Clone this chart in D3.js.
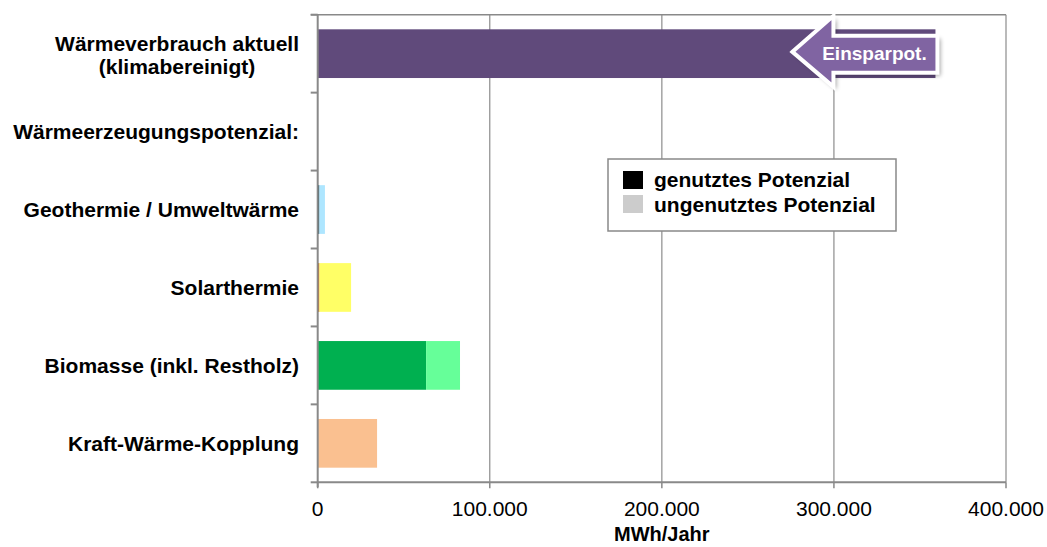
<!DOCTYPE html>
<html>
<head>
<meta charset="utf-8">
<script src="https://cdn.jsdelivr.net/npm/d3@7"></script>
<style>
  html, body { margin: 0; padding: 0; background: #fff; }
  svg { display: block; font-family: "Liberation Sans", Arial, sans-serif; }
</style>
</head>
<body>
<svg id="chart" width="1047" height="547"></svg>
<script>
// ---- data ----
const categories = [
  ["Wärmeverbrauch aktuell", "(klimabereinigt)"],
  ["Wärmeerzeugungspotenzial:"],
  ["Geothermie / Umweltwärme"],
  ["Solarthermie"],
  ["Biomasse (inkl. Restholz)"],
  ["Kraft-Wärme-Kopplung"]
];
const usedValues   = [359000, 0, 1000, 1000, 63000, 0];
const unusedValues = [0, 0, 3200, 18400, 19700, 34500];
const usedColors   = ["#604a7b", "#000000", "#215968", "#e46c0a", "#00b050", "#f79646"];
const unusedColors = ["#604a7b", "#cccccc", "#aee6ff", "#ffff66", "#66ff99", "#fac090"];
const xTicks = [0, 100000, 200000, 300000, 400000];
const legendLabels = ["genutztes Potenzial", "ungenutztes Potenzial"];
const legendColors = ["#000000", "#cccccc"];
const calloutText = "Einsparpot.";
const xTitle = "MWh/Jahr";

// ---- layout ----
(function () {
const svg = d3.select("#chart");
const pL = 317.7, pR = 1006, pT = 14.7, pB = 482.3;
const gray = "#898989";

const x = d3.scaleLinear().domain([0, 400000]).range([pL, pR]);
const y = d3.scaleBand().domain(d3.range(categories.length))
  .range([pT, pB]).paddingInner(0.375).paddingOuter(0.1875);
const step = y.step();

const de = d3.formatLocale({decimal: ",", thousands: ".", grouping: [3], currency: ["", " €"]});
const fmt = de.format(",.0f");

// gridlines
svg.append("g").selectAll("line").data(xTicks.slice(1)).join("line")
  .attr("x1", d => x(d)).attr("x2", d => x(d))
  .attr("y1", pT).attr("y2", pB)
  .attr("stroke", "#8c8c8c").attr("stroke-width", 1.2);

// top border
svg.append("line").attr("x1", pL - 7).attr("x2", pR)
  .attr("y1", pT).attr("y2", pT).attr("stroke", gray).attr("stroke-width", 1.5);

// bars
const bars = svg.append("g");
categories.forEach((c, i) => {
  if (usedValues[i] > 0) {
    bars.append("rect").attr("x", x(0)).attr("y", y(i))
      .attr("width", x(usedValues[i]) - x(0)).attr("height", y.bandwidth())
      .attr("fill", usedColors[i]);
  }
  if (unusedValues[i] > 0) {
    bars.append("rect").attr("x", x(usedValues[i])).attr("y", y(i))
      .attr("width", x(usedValues[i] + unusedValues[i]) - x(usedValues[i])).attr("height", y.bandwidth())
      .attr("fill", unusedColors[i]);
  }
});

// y axis line + ticks
svg.append("line").attr("x1", pL).attr("x2", pL).attr("y1", pT).attr("y2", pB + 5)
  .attr("stroke", gray).attr("stroke-width", 2);
svg.append("g").selectAll("line").data(d3.range(categories.length + 1)).join("line")
  .attr("x1", pL - 7).attr("x2", pL)
  .attr("y1", d => pT + d * step).attr("y2", d => pT + d * step)
  .attr("stroke", gray).attr("stroke-width", 2);

// x axis
svg.append("line").attr("x1", pL).attr("x2", pR).attr("y1", pB).attr("y2", pB)
  .attr("stroke", gray).attr("stroke-width", 2);
svg.append("g").selectAll("line").data(xTicks).join("line")
  .attr("x1", d => x(d)).attr("x2", d => x(d)).attr("y1", pB).attr("y2", pB + 6)
  .attr("stroke", gray).attr("stroke-width", 1.5);
svg.append("g").selectAll("text").data(xTicks).join("text")
  .attr("x", d => x(d)).attr("y", 516).attr("text-anchor", "middle")
  .attr("font-size", 21).attr("fill", "#000").text(d => fmt(d));
svg.append("text").attr("x", (pL + pR) / 2).attr("y", 541).attr("text-anchor", "middle")
  .attr("font-size", 20).attr("font-weight", "bold").text(xTitle);

// y labels
const labelRight = 299;
categories.forEach((lines, i) => {
  const cy = y(i) + y.bandwidth() / 2;
  if (lines.length === 1) {
    svg.append("text").attr("x", labelRight).attr("y", cy + 7.5)
      .attr("text-anchor", "end").attr("font-size", 21).attr("font-weight", "bold").text(lines[0]);
  } else {
    const g = svg.append("g");
    const ts = lines.map((l, k) => g.append("text").attr("y", cy - 3 + k * 23.5)
      .attr("text-anchor", "middle").attr("font-size", 21).attr("font-weight", "bold").text(l));
    const w = d3.max(ts, t => t.node().getComputedTextLength());
    ts.forEach(t => t.attr("x", labelRight - w / 2));
  }
});

// legend
const lg = svg.append("g");
lg.append("rect").attr("x", 608).attr("y", 159).attr("width", 288).attr("height", 72)
  .attr("fill", "#fff").attr("stroke", gray).attr("stroke-width", 1.5);
legendLabels.forEach((l, k) => {
  lg.append("rect").attr("x", 623).attr("y", 171 + k * 24).attr("width", 20).attr("height", 18)
    .attr("fill", legendColors[k]);
  lg.append("text").attr("x", 654).attr("y", 187 + k * 24.5).attr("font-size", 21)
    .attr("font-weight", "bold").text(l);
});

// callout arrow
const defs = svg.append("defs");
defs.append("filter").attr("id", "blur").attr("x", "-20%").attr("y", "-20%").attr("width", "140%").attr("height", "140%")
  .append("feGaussianBlur").attr("stdDeviation", 2);
const R = x(usedValues[0]) + 2;
const cy0 = y(0) + y.bandwidth() / 2 - 1.8;
const arrowPts = [
  [R - 145, cy0], [R - 104, cy0 - 36], [R - 104, cy0 - 16], [R, cy0 - 16],
  [R, cy0 + 21], [R - 104, cy0 + 21], [R - 104, cy0 + 35]
];
const line = d3.line().curve(d3.curveLinearClosed);
svg.append("path").attr("d", line(arrowPts)).attr("transform", "translate(3,3)")
  .attr("fill", "#000").attr("opacity", 0.35).attr("filter", "url(#blur)");
svg.append("path").attr("d", line(arrowPts)).attr("fill", "#8064a2")
  .attr("stroke", "#fff").attr("stroke-width", 4).attr("stroke-linejoin", "miter");
svg.append("text").attr("x", R - 63).attr("y", cy0 + 4.5).attr("dy", "0.2em")
  .attr("text-anchor", "middle").attr("font-size", 19).attr("font-weight", "bold")
  .attr("fill", "#fff").text(calloutText);
})();
</script>
</body>
</html>
